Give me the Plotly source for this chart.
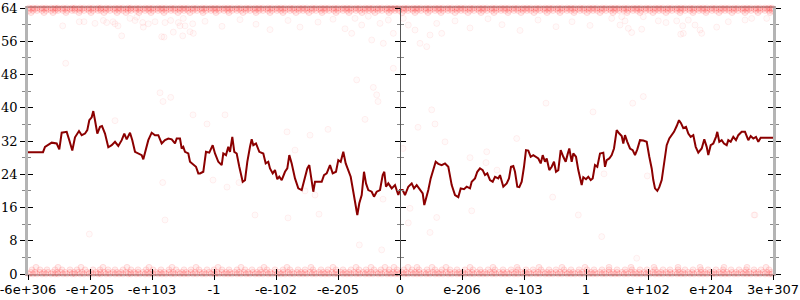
import plotly.graph_objects as go

# x positions are ordinal positions along the float-ordered axis (left edge 28, right edge 773)
tick_pos = [28, 90, 152, 214, 276, 338, 400, 462, 524, 586, 648, 711, 773]
tick_text = ["-6e+306", "-e+205", "-e+103", "-1", "-e-102", "-e-205", "0",
             "e-206", "e-103", "1", "e+102", "e+204", "3e+307"]
y_ticks = [0, 8, 16, 24, 32, 40, 48, 56, 64]
y_minor = [4, 12, 20, 28, 36, 44, 52, 60]

# smoothed (running) line
line_x = [28, 43, 45, 48.3, 51.7, 56.7, 59.3, 61.7, 66.7, 69.3, 72.3, 75, 79, 81.7, 85, 87.3, 89.3,
          91.7, 93.3, 95, 97.3, 100, 102, 105, 108.3, 111.7, 115, 118.3, 121.7, 124.3, 126.7, 130,
          132.3, 135, 138.3, 141.7, 143.3, 145, 148.3, 151.7, 155, 158.3, 161.7, 165, 168.3, 171.7,
          175, 176.7, 180, 181.7, 183.3, 185, 188.3, 190, 193.3, 196, 198.3, 200,
          203.3, 206, 209.3, 212.7, 215, 218.3, 221.7, 223.3, 226, 228.3, 230, 232.3, 234.3, 236.7,
          239.3, 242.7, 245, 247.3, 250, 251.7, 253.3, 256, 259.3, 263.3, 265.7, 268.3, 270, 272.7,
          275, 277.3, 279.3, 281.7, 285, 287.3, 289.3, 291.7, 295, 298.3, 301.7, 305, 307.3, 309.3,
          311.7, 313.3, 315, 318.3, 321.7, 324, 326.7, 330, 332.7, 336, 338.3, 340.7, 343.3, 345.7,
          348.3, 350.7, 353.3, 356, 357.3, 359.3, 361.7, 364, 366, 368.3, 371.7, 374, 376.7, 380,
          382.7, 384.3, 386, 388.3, 391.7, 395, 398.3, 400,
          402.7, 405, 408.3, 411.7, 414, 416.7, 420, 422.7, 424.3, 426.7, 428.3, 430.7, 433.3,
          435.7, 438.3, 441.7, 445, 448.3, 451.7, 455, 458.3, 460.7, 464, 466.7, 470, 471.7, 475,
          477.3, 480, 482.7, 485, 487.3, 490, 492.7, 495, 498.3, 500, 503.3, 506.7, 509, 511,
          513.3, 515, 517.3, 519.3, 521.7, 524, 526, 528.3, 530.7, 533.3, 536, 538.3, 540.7, 542.7,
          545, 546.7, 549.3, 551.7, 554, 556, 558.3, 560.7, 563.3, 565.7, 567.7, 569.3, 571.7,
          573.3, 576, 578.3, 581.7, 583.3, 586, 588.3, 590.7, 592.7, 595, 597.3, 600,
          603.3, 605, 606.7, 609.3, 611.7, 614, 616.7, 619.3, 621.7, 623.3, 625, 627.3, 630,
          632.7, 635, 637.3, 640, 643.3, 646.7, 649.3, 651.7, 653.3, 655, 657.3, 659.3, 661.7,
          664, 666.7, 669.3, 671.7, 674, 676.7, 679, 681, 683.3, 686, 688.3, 690.7, 693.3, 695.7,
          698.3, 701.7, 704.3, 706.7, 708.3, 710.7, 713.3, 716, 717.3, 719.3, 721.7, 724, 726.7,
          728.3, 730.7, 733.3, 736, 738.3, 741.7, 745, 748.3, 750.7, 753.3, 756, 758.3, 760.7, 773]
line_y = [29.3, 29.3, 30.6, 31.0, 31.6, 31.4, 30.0, 34.0, 34.2, 32.2, 29.7, 32.9, 34.4, 33.4, 33.8,
          34.6, 37.0, 37.7, 39.2, 37.0, 33.8, 35.4, 35.6, 33.8, 30.5, 31.0, 31.8, 30.8, 32.2, 33.8,
          32.4, 34.0, 32.2, 29.4, 29.0, 28.6, 27.6, 29.4, 32.2, 34.0, 33.4, 33.4, 31.4, 32.2, 32.6,
          32.4, 31.4, 32.6, 32.6, 30.2, 30.6, 29.4, 29.0, 27.0, 26.2, 25.8, 24.2, 24.2,
          24.6, 29.4, 29.2, 31.0, 29.0, 27.0, 26.2, 29.0, 28.6, 30.6, 29.4, 33.0, 29.4, 29.0,
          25.8, 22.2, 22.6, 27.0, 30.6, 32.4, 31.0, 31.4, 29.4, 29.0, 26.6, 27.0, 25.4, 24.2,
          25.0, 22.8, 23.4, 22.6, 24.6, 25.4, 28.6, 26.6, 23.0, 20.6, 20.2, 23.4, 25.4, 26.2,
          22.6, 19.8, 22.2, 22.2, 22.2, 23.8, 24.2, 26.2, 24.2, 24.6, 27.4, 27.0, 29.4, 26.6,
          25.0, 23.4, 19.8, 16.2, 14.2, 17.0, 19.0, 24.6, 21.8, 20.2, 19.8, 18.6, 19.8, 20.2,
          23.8, 24.6, 21.0, 21.8, 20.6, 21.4, 19.0, 20.2,
          20.2, 19.0, 21.0, 21.8, 20.6, 21.4, 20.2, 19.4, 16.6, 18.6, 20.2, 23.0, 25.4,
          27.0, 26.5, 26.2, 26.6, 25.8, 21.4, 19.0, 18.5, 20.6, 20.4, 21.0, 20.6, 22.2, 23.0,
          24.6, 25.4, 25.0, 23.8, 24.2, 22.6, 22.2, 23.4, 23.0, 23.8, 21.0, 21.8, 23.0, 25.8,
          26.0, 24.6, 21.0, 20.9, 22.2, 25.8, 29.8, 29.7, 28.2, 28.6, 28.2, 27.8, 26.6, 28.6,
          27.0, 27.8, 25.0, 25.8, 27.0, 24.6, 25.0, 29.8, 28.2, 27.0, 28.9, 30.2, 27.0,
          29.0, 28.2, 25.0, 21.4, 23.3, 22.8, 23.4, 22.6, 23.0, 26.2, 25.8, 29.0,
          29.2, 25.8, 27.4, 27.8, 28.6, 30.2, 34.6, 33.8, 33.2, 31.4, 33.4, 31.8, 30.2,
          29.8, 28.6, 30.0, 32.2, 32.1, 31.8, 28.2, 25.4, 22.6, 20.6, 20.0, 20.9, 22.6,
          27.0, 31.0, 32.6, 33.4, 34.2, 35.6, 37.0, 36.3, 35.1, 35.4, 33.8, 33.0, 33.4, 30.6,
          29.2, 30.2, 32.4, 30.6, 28.6, 31.0, 31.4, 33.0, 34.2, 31.8, 32.2, 31.4, 31.0,
          32.2, 31.8, 33.0, 32.2, 33.4, 34.2, 34.2, 32.2, 33.2, 32.6, 33.0, 31.8, 32.8, 32.8]

# individual samples: dense rows at the extremes (x positions of samples)
row_a_x = [29, 33, 37, 42, 46, 51, 55, 58, 63, 67, 72, 75, 80, 84, 89, 93, 98, 101, 106, 110, 115,
           119, 123, 128, 131, 136, 140, 145, 149, 153, 158, 162, 166, 171, 175, 180, 184, 188, 193,
           197, 202, 206, 211, 215, 219, 224, 228, 232, 237, 241, 246, 250, 255, 259, 263, 268, 272,
           277, 281, 285, 290, 294, 299, 303, 307, 312, 316, 321, 325, 329, 334, 338, 343, 347, 351,
           356, 360, 365, 369, 373, 378, 382, 387, 391, 395, 399, 404, 408, 413, 417, 421, 426, 430,
           435, 439, 443, 448, 452, 457, 461, 465, 470, 474, 479, 483, 487, 492, 496, 501, 505, 509,
           514, 518, 523, 527, 531, 536, 540, 545, 549, 553, 558, 562, 567, 571, 575, 580, 584, 589,
           593, 597, 602, 606, 611, 615, 619, 624, 628, 633, 637, 641, 646, 650, 655, 659, 663, 668,
           672, 677, 681, 685, 690, 694, 699, 703, 707, 712, 716, 721, 725, 729, 734, 738, 743, 747,
           751, 756, 760, 765, 769, 772]
row_b_x = [31, 35, 40, 44, 48, 53, 57, 61, 65, 70, 74, 78, 82, 87, 91, 96, 100, 104, 108, 113, 117,
           121, 126, 130, 134, 138, 143, 147, 151, 156, 160, 164, 169, 173, 178, 182, 186, 191, 195,
           200, 204, 209, 213, 217, 222, 226, 230, 235, 239, 244, 248, 253, 257, 261, 266, 270, 275,
           279, 283, 288, 292, 297, 301, 305, 310, 314, 319, 323, 327, 332, 336, 341, 345, 349, 354,
           358, 363, 367, 371, 376, 380, 385, 389, 393, 397, 402, 406, 411, 415, 419, 424, 428, 433,
           437, 441, 446, 450, 455, 459, 463, 468, 472, 477, 481, 485, 490, 494, 499, 503, 507, 512,
           516, 521, 525, 529, 534, 538, 543, 547, 551, 556, 560, 565, 569, 573, 578, 582, 587, 591,
           595, 600, 604, 609, 613, 617, 622, 626, 631, 635, 639, 644, 648, 653, 657, 661, 666, 670,
           675, 679, 683, 688, 692, 697, 701, 705, 710, 714, 719, 723, 727, 732, 736, 741, 745, 749,
           754, 758, 763, 767, 771]
row_c_x = [31, 44, 53, 66, 79, 91, 104, 117, 126, 139, 151, 164, 178, 190, 203, 216, 229, 243, 256,
           270, 283, 296, 309, 322, 336, 349, 362, 375, 389, 402, 415, 428, 441, 455, 468, 481, 494,
           508, 521, 534, 547, 560, 574, 587, 600, 613, 627, 640, 653, 666, 680, 693, 706, 719,
           732, 745, 758, 770]
row_d_x = [32, 40, 47, 55, 62, 70, 77, 85, 93, 100, 108, 115, 123, 131, 138, 146, 153, 161, 169, 176,
           184, 191, 199, 207, 214, 222, 229, 237, 245, 252, 260, 267, 275, 283, 290, 298, 305, 313,
           321, 328, 336, 343, 351, 359, 366, 374, 381, 389, 397, 404, 412, 419, 427, 435, 442, 450,
           457, 465, 473, 480, 488, 495, 503, 511, 518, 526, 533, 541, 549, 556, 564, 571, 579, 587,
           594, 602, 609, 617, 625, 632, 640, 647, 655, 663, 670, 678, 685, 693, 701, 708, 716, 723,
           731, 739, 746, 754, 761, 769]
row_e_x = [36, 58, 81, 103, 127, 149, 172, 196, 218, 241, 264, 287, 311, 333, 356, 371, 385, 394, 408,
           417, 432, 446, 470, 493, 517, 539, 562, 585, 609, 631, 654, 678, 700, 724, 747, 766]
# sample rows: which x list and at which value
row_lists = [row_a_x, row_b_x, row_a_x, row_c_x, row_a_x, row_b_x, row_d_x, row_e_x]
row_levels = [64, 63.8, 63.4, 62.9, 0, 0.4, 1.0, 1.6]

# scattered samples away from the extremes
scatter_x = [62.7, 79.3, 84, 95, 103.3, 106.7, 113, 115, 118, 121.7, 130, 135, 136.7, 142.7, 143.3,
             148.3, 155, 161.7, 164, 165, 170.7, 173.3, 178.3, 180, 182.7, 183.3, 185, 190, 192.7,
             193.3, 65.7, 160, 170.7, 205, 222, 240, 256, 270, 288, 300, 318, 333, 345,
             355, 361.7, 351.7, 368.3, 371.7, 380, 383.3, 388.3, 393.3, 403.3, 408.3, 415, 420,
             426.7, 430, 436.7, 441.7, 356.7, 373.3, 376.7, 393.3, 455, 470, 488, 502, 520, 538, 556,
             572, 590, 611.7, 621.7, 625, 620, 628.3, 631.7, 641.7, 643.3, 658.3, 666, 676.7, 682.7,
             683.3, 680.7, 688.3, 695, 700, 701.7, 716.7, 728.3, 745, 751.7, 766.7, 643.3,
             115, 163, 193, 162.7, 225, 207, 287, 310, 328, 365, 378, 295, 213, 227, 239, 255, 288,
             305, 315, 319, 383, 431.7, 435, 418, 445, 403, 516.7, 546, 593, 486.7, 470, 486, 497,
             410, 436.7, 471.7, 552.7, 578.3, 632.7, 604, 647.3, 754, 89.3, 165, 359.3, 381.7, 430,
             408.3, 636.7, 755, 601.7]
scatter_y = [59.7, 60.7, 60.7, 60.3, 61.0, 60.5, 60.7, 60.2, 59.7, 57.3, 61.5, 61.0, 61.8, 60.5, 59.4,
             60.2, 60.7, 57.1, 57.0, 60.5, 61.0, 58.2, 60.5, 59.7, 57.3, 61.5, 59.7, 58.3, 60.2,
             57.9, 50.7, 43.6, 42.5, 60.8, 59.6, 61.2, 60.1, 58.8, 61.0, 59.4, 60.6, 61.3, 59.0,
             61.5, 59.9, 57.9, 62.0, 56.3, 60.3, 55.5, 61.1, 57.9, 61.5, 59.9, 58.7, 55.5,
             54.7, 57.5, 60.3, 57.9, 46.7, 44.9, 43.1, 49.5, 60.9, 59.2, 61.4, 60.0, 58.6, 61.1, 59.5,
             60.7, 59.8, 61.5, 61.9, 60.9, 59.9, 59.1, 58.1, 58.9, 61.9, 60.9, 60.5, 60.9, 59.7,
             57.9, 57.7, 61.1, 59.9, 58.7, 57.9, 59.4, 60.7, 61.1, 61.5, 61.5, 42.7,
             36.9, 41.5, 38.3, 22.0, 38.3, 36.1, 34.2, 33.4, 34.8, 37.2, 41.5, 29.8, 22.6, 20.9,
             22.0, 14.2, 13.5, 20.0, 19.0, 14.4, 18.0, 39.5, 36.1, 35.3, 31.8, 30.2, 32.6, 41.1,
             39.0, 29.4, 28.0, 26.8, 25.0, 15.8, 13.6, 15.2, 18.5, 14.2, 41.1, 24.1, 23.6, 14.2,
             9.6, 13.0, 7.0, 5.8, 10.0, 12.3, 3.8, 14.2, 9.0]

dense_marker = dict(size=6, color="rgba(255,0,0,0.07)",
                    line=dict(width=1, color="rgba(255,0,0,0.10)"))
sparse_marker = dict(size=6, color="rgba(255,0,0,0.02)",
                     line=dict(width=1, color="rgba(255,0,0,0.06)"))

fig = go.Figure()
for xs, lvl in zip(row_lists, row_levels):
    fig.add_trace(go.Scatter(x=xs, y=[lvl] * len(xs), mode="markers", marker=dense_marker,
                             cliponaxis=False, hoverinfo="skip", showlegend=False))
fig.add_trace(go.Scatter(x=scatter_x, y=scatter_y, mode="markers", marker=sparse_marker,
                         cliponaxis=False, hoverinfo="skip", showlegend=False))
fig.add_trace(go.Scatter(x=line_x, y=line_y, mode="lines",
                         line=dict(color="#8b0000", width=2), showlegend=False, hoverinfo="skip"))
# invisible traces to attach overlay axes
for xa, ya in [("x2", "y"), ("x3", "y"), ("x", "y2"), ("x", "y3"), ("x", "y4")]:
    fig.add_trace(go.Scatter(x=[None], y=[None], xaxis=xa, yaxis=ya, showlegend=False))

XR = [28, 773]
YR = [0, 64]
axis_gray = "#b4b4b4"
minor_gray = "#888"
common = dict(showgrid=False, zeroline=False, automargin=False)
fig.update_layout(
    width=800, height=300,
    margin=dict(l=28, r=27, t=8, b=26, autoexpand=False),
    plot_bgcolor="white", paper_bgcolor="white",
    # labels only (ticks drawn by the overlay axes)
    xaxis=dict(range=XR, tickvals=tick_pos, ticktext=tick_text, ticks="",
               showline=True, linecolor=axis_gray, linewidth=2, mirror=True,
               layer="below traces", ticklabeloverflow="allow", ticklabelstandoff=2,
               tickfont=dict(family="DejaVu Sans", size=13, color="black"), **common),
    xaxis2=dict(range=XR, overlaying="x", side="bottom", tickvals=tick_pos, ticks="inside",
                ticklen=5, tickcolor="black", showticklabels=False, showline=False, **common),
    xaxis3=dict(range=XR, overlaying="x", side="bottom", tickvals=tick_pos, ticks="outside",
                ticklen=5, tickcolor="black", showticklabels=False, showline=False, **common),
    yaxis=dict(range=YR, tickvals=y_ticks, ticks="outside", ticklen=5, tickcolor="black",
               showline=True, linecolor=axis_gray, linewidth=2.5, mirror="ticks",
               ticklabeloverflow="allow",
               minor=dict(tickvals=y_minor, ticks="outside", ticklen=3, tickcolor=minor_gray),
               tickfont=dict(family="DejaVu Serif", size=13, color="black"), **common),
    yaxis2=dict(range=YR, overlaying="y", tickvals=y_ticks, ticks="inside", ticklen=5,
                tickcolor="black", mirror="ticks", showline=False, showticklabels=False,
                minor=dict(tickvals=y_minor, ticks="inside", ticklen=3, tickcolor=minor_gray),
                **common),
    yaxis3=dict(range=YR, overlaying="y", anchor="free", position=(400 - 28) / 745,
                tickvals=y_ticks, ticks="outside", ticklen=5, tickcolor="black",
                showline=True, linecolor="#555", linewidth=1, showticklabels=False,
                minor=dict(tickvals=y_minor, ticks="outside", ticklen=3, tickcolor=minor_gray),
                **common),
    yaxis4=dict(range=YR, overlaying="y", anchor="free", position=(400 - 28) / 745,
                tickvals=y_ticks, ticks="inside", ticklen=5, tickcolor="black",
                showline=False, showticklabels=False,
                minor=dict(tickvals=y_minor, ticks="inside", ticklen=3, tickcolor=minor_gray),
                **common),
)
fig.write_html("out.html")
